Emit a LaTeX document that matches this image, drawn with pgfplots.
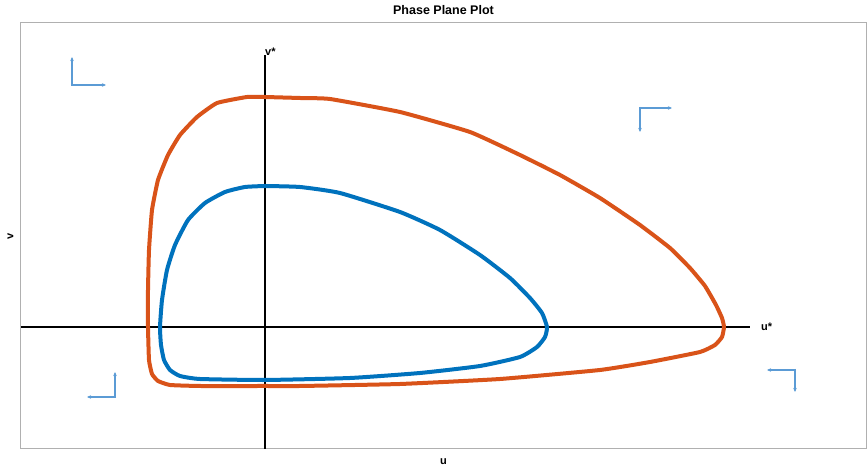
\documentclass[border=0pt]{standalone}
\usepackage{pgfplots}
\pgfplotsset{compat=1.18}
\usepackage{fontspec}
\setmainfont{Liberation Sans}
\usetikzlibrary{arrows.meta}
\definecolor{morange}{HTML}{D95319}
\definecolor{mblue}{HTML}{0072BD}
\definecolor{arrblue}{HTML}{5B9BD5}
\definecolor{boxgray}{HTML}{B0B0B0}
\begin{document}
\begin{tikzpicture}
\useasboundingbox (0,0) rectangle (868pt,473pt);
\begin{axis}[
  at={(21pt,24pt)}, anchor=south west,
  scale only axis, width=845pt, height=426pt,
  xmin=-244, xmax=601, ymin=-122, ymax=304,
  xtick=\empty, ytick=\empty,
  axis line style={boxgray, line width=1pt},
  title={\bfseries Phase Plane Plot},
  title style={at={(0.5,1)}, anchor=south, yshift=-1pt, font=\fontsize{12.5}{14}\selectfont},
  xlabel={\bfseries u},
  xlabel style={at={(0.5,0)}, anchor=north, yshift=-6pt, font=\fontsize{11}{13}\selectfont},
  ylabel={\bfseries v},
  ylabel style={at={(0,0.5)}, anchor=south, yshift=4pt, font=\fontsize{11}{13}\selectfont},
  clip=false,
]
% axes through equilibrium
\addplot[black, line width=1.8pt] coordinates {(-244,0) (485,0)};
\addplot[black, line width=1.8pt] coordinates {(0,-122) (0,272)};
\node[anchor=south west, inner sep=1pt, xshift=-1pt, font=\bfseries\fontsize{11}{13}\selectfont] at (axis cs:0,270) {v*};
\node[anchor=west, inner sep=1pt, font=\bfseries\fontsize{11}{13}\selectfont] at (axis cs:495,0) {u*};
% orange orbit
\addplot[morange, line width=4pt, line join=round, smooth, tension=0.25] coordinates {
(0,230) (35,229) (65,228) (135,215) (205,195) (255,172) (295,152) (335,129)
(375,102) (405,79) (425,59) (440,41) (451,22) (457,9) (459,0) (457,-10)
(450,-18) (435,-25) (385,-35) (335,-43) (235,-52) (135,-57) (35,-59) (0,-59)
(-65,-59) (-95,-58) (-107,-54) (-113,-47) (-116,-33) (-117,0) (-117,37)
(-116,77) (-113,117) (-107,147) (-97,172) (-85,192) (-68,210) (-48,224)
(-18,230) (0,230)};
% blue orbit
\addplot[mblue, line width=4pt, line join=round, smooth, tension=0.3] coordinates {
(0,141) (35,140) (75,134) (135,115) (175,97) (215,72) (245,49) (265,29)
(277,14) (282,0) (280,-10) (272,-20) (255,-30) (215,-39) (155,-46) (85,-51)
(0,-53) (-65,-52) (-85,-49) (-95,-43) (-101,-33) (-104,-18) (-105,0)
(-103,27) (-98,57) (-90,82) (-77,107) (-60,124) (-40,135) (-20,140) (0,141)};
% direction arrows
\addplot[arrblue, line width=1.2pt, -{Stealth[length=4pt,width=3.5pt]}] coordinates {(-193,242) (-193,270)};
\addplot[arrblue, line width=1.2pt, -{Stealth[length=4pt,width=3.5pt]}] coordinates {(-194,242) (-159,242)};
\addplot[arrblue, line width=1.2pt, -{Stealth[length=4pt,width=3.5pt]}] coordinates {(374,219) (407,219)};
\addplot[arrblue, line width=1.2pt, -{Stealth[length=4pt,width=3.5pt]}] coordinates {(375,220) (375,195)};
\addplot[arrblue, line width=1.2pt, -{Stealth[length=4pt,width=3.5pt]}] coordinates {(531,-43) (502,-43)};
\addplot[arrblue, line width=1.2pt, -{Stealth[length=4pt,width=3.5pt]}] coordinates {(530,-42) (530,-65)};
\addplot[arrblue, line width=1.2pt, -{Stealth[length=4pt,width=3.5pt]}] coordinates {(-150,-71) (-150,-45)};
\addplot[arrblue, line width=1.2pt, -{Stealth[length=4pt,width=3.5pt]}] coordinates {(-149,-70) (-178,-70)};
\end{axis}
\end{tikzpicture}
\end{document}
